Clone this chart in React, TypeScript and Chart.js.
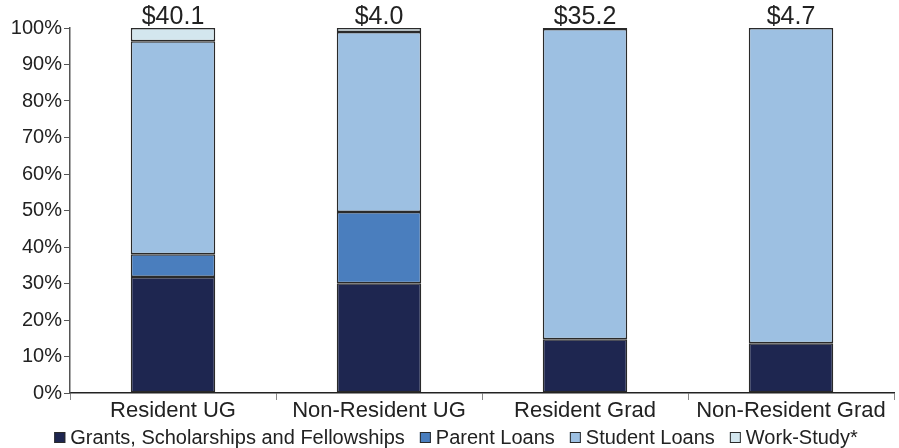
import React, { useEffect, useRef } from "react";
import { Chart, registerables } from "chart.js";

Chart.register(...registerables);

const categories = ["Resident UG", "Non-Resident UG", "Resident Grad", "Non-Resident Grad"];
const totals = ["$40.1", "$4.0", "$35.2", "$4.7"];
const grants = [31.8, 30.1, 14.7, 13.6];
const parentLoans = [6.2, 19.5, null, null];
const studentLoans = [58.4, 49.3, 85.0, 86.4];
const workStudy = [3.6, 1.1, 0.3, null];
const yTicks = [0, 10, 20, 30, 40, 50, 60, 70, 80, 90, 100];

const FONT = "'Liberation Sans', Arial, sans-serif";
const BORDER = "#2a2a2a";

const topLabels = {
  id: "topLabels",
  afterDatasetsDraw(chart: any) {
    const ctx = chart.ctx;
    const meta = chart.getDatasetMeta(0);
    const y = chart.scales.y.getPixelForValue(100);
    ctx.save();
    ctx.font = `25px ${FONT}`;
    ctx.fillStyle = "#222";
    ctx.textAlign = "center";
    ctx.textBaseline = "alphabetic";
    meta.data.forEach((bar: any, i: number) => {
      ctx.fillText(totals[i], bar.x, y - 4);
    });
    ctx.restore();
  },
};

const bottomLegend = {
  id: "bottomLegend",
  afterDraw(chart: any) {
    const ctx = chart.ctx;
    const ds = chart.data.datasets;
    const box = 11;
    const gapText = 5;
    const gapItem = 15;
    ctx.save();
    ctx.font = `20px ${FONT}`;
    const widths = ds.map((d: any) => ctx.measureText(d.label).width);
    const total =
      widths.reduce((a: number, w: number) => a + box + gapText + w, 0) + gapItem * (ds.length - 1);
    let x = 456 - total / 2;
    const cy = 437.5;
    ctx.textBaseline = "alphabetic";
    ctx.textAlign = "left";
    ds.forEach((d: any, i: number) => {
      ctx.fillStyle = d.backgroundColor;
      ctx.fillRect(x, cy - box / 2, box, box);
      ctx.strokeStyle = BORDER;
      ctx.lineWidth = 1;
      ctx.strokeRect(x + 0.5, cy - box / 2 + 0.5, box - 1, box - 1);
      x += box + gapText;
      ctx.fillStyle = "#222";
      ctx.fillText(d.label, x, cy + 6.5);
      x += widths[i] + gapItem;
    });
    ctx.restore();
  },
};

export default function App() {
  const ref = useRef<HTMLCanvasElement | null>(null);
  useEffect(() => {
    if (!ref.current) return;
    const mk = (label: string, data: (number | null)[], color: string) => ({
      label,
      data,
      backgroundColor: color,
      borderColor: BORDER,
      borderWidth: 1.5,
      borderSkipped: false,
      categoryPercentage: 1,
      barPercentage: 0.41,
    });
    const chart = new Chart(ref.current, {
      type: "bar",
      data: {
        labels: categories,
        datasets: [
          mk("Grants, Scholarships and Fellowships", grants, "#1e2650"),
          mk("Parent Loans", parentLoans, "#4a7ebe"),
          mk("Student Loans", studentLoans, "#9dc0e2"),
          mk("Work-Study*", workStudy, "#d3e6ee"),
        ],
      },
      plugins: [topLabels, bottomLegend],
      options: {
        animation: false,
        responsive: false,
        maintainAspectRatio: false,
        layout: { padding: { top: 28, right: 5, left: 0, bottom: 25 } },
        plugins: {
          tooltip: { enabled: false },
          legend: { display: false },
        },
        scales: {
          x: {
            stacked: true,
            offset: true,
            afterFit: (s: any) => {
              s.height = 30;
            },
            border: { display: true, color: "#222", width: 1.5 },
            grid: {
              display: true,
              drawOnChartArea: false,
              drawTicks: true,
              tickLength: 7,
              color: "#888",
              offset: true,
            },
            ticks: {
              color: "#222",
              padding: -2,
              maxRotation: 0,
              autoSkip: false,
              font: { size: 22, family: FONT },
            },
          },
          y: {
            stacked: true,
            min: 0,
            max: 100,
            afterFit: (s: any) => {
              s.width = 70;
            },
            afterBuildTicks: (s: any) => {
              s.ticks = yTicks.map((v) => ({ value: v }));
            },
            border: { display: true, color: "#555", width: 1.5 },
            grid: {
              display: true,
              drawOnChartArea: false,
              drawTicks: true,
              tickLength: 6,
              color: "#555",
            },
            ticks: {
              color: "#222",
              padding: 2,
              font: { size: 20, family: FONT },
              callback: (v: any) => v + "%",
            },
          },
        },
      },
    } as any);
    return () => chart.destroy();
  }, []);
  return (
    <div style={{ position: "fixed", left: 0, top: 0, width: 899, height: 448, background: "#fff" }}>
      <canvas ref={ref} width={899} height={448} style={{ width: 899, height: 448 }} />
    </div>
  );
}
